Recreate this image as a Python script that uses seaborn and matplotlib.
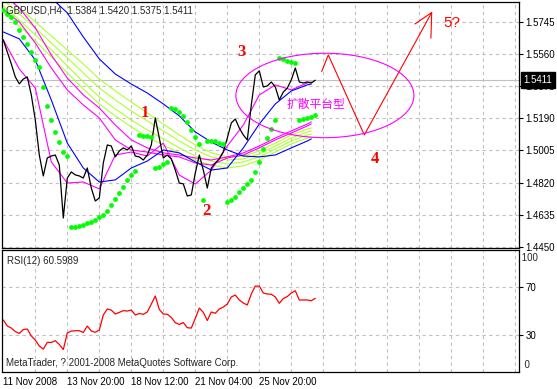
import numpy as np
import matplotlib
matplotlib.use("Agg")
import matplotlib.pyplot as plt
from matplotlib.patches import Ellipse
from matplotlib.transforms import blended_transform_factory
import seaborn as sns

sns.set_style("white")
plt.rcParams["font.family"] = ["Liberation Sans", "DejaVu Sans"]

# -----------------------------
# data (H4 bars, index 0 = 11 Nov 2008)
# -----------------------------
close = [
    1.5644, 1.5574, 1.5505, 1.5430, 1.5390, 1.5418, 1.5430, 1.5326, 1.5181, 1.4979,
    1.4858, 1.4962, 1.4973, 1.4979, 1.4921, 1.4615, 1.4846, 1.4881, 1.4864, 1.4858,
    1.4846, 1.4904, 1.4788, 1.4713, 1.4731, 1.4933, 1.5037, 1.5031, 1.4968, 1.5002,
    1.5020, 1.5008, 1.5031, 1.4973, 1.4968, 1.4950, 1.4979, 1.5037, 1.5193, 1.5077,
    1.4962, 1.4979, 1.4956, 1.4892, 1.4817, 1.4812, 1.4742, 1.4748, 1.4875, 1.4979,
    1.4892, 1.4788, 1.4904, 1.4933, 1.4956, 1.4997, 1.5077, 1.5164, 1.5187, 1.5135,
    1.5095, 1.5066, 1.5268, 1.5442, 1.5465, 1.5372, 1.5378, 1.5401, 1.5372, 1.5297,
    1.5343, 1.5366, 1.5413, 1.5482, 1.5401, 1.5395, 1.5401, 1.5395, 1.5411,
]

rsi = [
    42.5, 37.5, 35.8, 32.9, 31.3, 34.6, 35.0, 29.2, 25.8, 20.8,
    18.3, 23.9, 23.8, 25.3, 22.1, 17.9, 31.7, 33.3, 33.6, 33.6,
    32.1, 37.5, 33.3, 32.3, 34.2, 46.7, 51.7, 50.8, 47.5, 48.9,
    50.3, 50.0, 50.8, 46.7, 47.9, 47.3, 49.2, 55.8, 62.5, 51.3,
    47.5, 47.3, 44.6, 40.3, 38.8, 40.4, 36.1, 35.8, 43.9, 52.5,
    48.9, 42.1, 49.2, 48.1, 51.7, 53.3, 55.8, 61.7, 63.3, 59.2,
    56.7, 55.0, 64.2, 70.8, 70.8, 65.0, 64.2, 64.0, 61.7, 56.4,
    60.4, 62.1, 65.0, 66.9, 59.2, 59.2, 59.2, 58.6, 60.6,
]

sar = [
    1.5817, 1.5794, 1.5777, 1.5745, 1.5702, 1.5663, 1.5621, 1.5576, 1.5528, 1.5486,
    1.5370, 1.5262, 1.5181, 1.5114, 1.5054, 1.4996, 1.4973, 1.4561, 1.4561, 1.4569,
    1.4576, 1.4588, 1.4594, 1.4603, 1.4619, 1.4632, 1.4655, 1.4690, 1.4725, 1.4761,
    1.4796, 1.4835, 1.4863, 1.4888, 1.5095, 1.5089, 1.5089, 1.5085, 1.4902, 1.4911,
    1.4927, 1.4940, 1.5252, 1.5243, 1.5228, 1.5205, 1.5172, 1.5124, 1.5081, 1.5043,
    1.4719, 1.5062, 1.5062, 1.5058, 1.5050, 1.5043, 1.4709, 1.4719, 1.4738, 1.4765,
    1.4787, 1.4811, 1.4835, 1.4881, 1.4939, 1.5016, 1.5080, 1.5131, 1.5181, 1.5538,
    1.5532, 1.5521, 1.5515, 1.5509, 1.5181, 1.5185, 1.5191, 1.5200, 1.5210,
]

# moving averages, sampled every 4 bars
ma_bars = [0, 4, 8, 12, 16, 20, 24, 28, 32, 36, 40, 44, 48, 52, 56, 60, 64, 68, 72, 76, 77]
blue_slow = [np.nan, np.nan, np.nan, 1.5887, 1.5800, 1.5661, 1.5534, 1.5447, 1.5389, 1.5337,
             1.5274, 1.5205, 1.5112, 1.5054, 1.5008, 1.4973, 1.4968, 1.4979, 1.5020, 1.5060, 1.5072]
blue_fast = [1.5690, 1.5650, 1.5528, 1.5297, 1.5048, 1.4904, 1.4823, 1.4835, 1.4904, 1.4944,
             1.5008, 1.4991, 1.4939, 1.4892, 1.4904, 1.5020, 1.5158, 1.5274, 1.5349, 1.5384, 1.5389]
mag_fast = [1.5644, 1.5476, 1.5366, 1.4939, 1.4817, 1.4823, 1.4783, 1.4979, 1.4996, 1.4973,
            1.5048, 1.4863, 1.4811, 1.4892, 1.5031, 1.5152, 1.5326, 1.5384, 1.5355, 1.5395, 1.5401]
mag_mid = [1.5817, 1.5748, 1.5626, 1.5482, 1.5355, 1.5268, 1.5193, 1.5066, 1.5008, 1.4996,
           1.4979, 1.4968, 1.4933, 1.4921, 1.4962, 1.4979, 1.5020, 1.5066, 1.5106, 1.5147, 1.5158]
mag_slow = [1.5904, 1.5829, 1.5713, 1.5557, 1.5424, 1.5326, 1.5251, 1.5152, 1.5066, 1.5020,
            1.4991, 1.4979, 1.4962, 1.4950, 1.4968, 1.4991, 1.5031, 1.5077, 1.5118, 1.5158, 1.5170]
yellow_1 = [1.5910, 1.5829, 1.5748, 1.5667, 1.5586, 1.5505, 1.5418, 1.5349, 1.5285, 1.5222,
            1.5158, 1.5095, 1.5037, 1.4991, 1.4968, 1.4973, 1.5002, 1.5048, 1.5095, 1.5129, 1.5135]
yellow_2 = [1.5875, 1.5794, 1.5713, 1.5626, 1.5540, 1.5453, 1.5366, 1.5297, 1.5233, 1.5176,
            1.5118, 1.5060, 1.5008, 1.4968, 1.4950, 1.4956, 1.4985, 1.5031, 1.5077, 1.5112, 1.5118]
yellow_3 = [1.5840, 1.5759, 1.5673, 1.5586, 1.5494, 1.5401, 1.5314, 1.5245, 1.5181, 1.5124,
            1.5072, 1.5020, 1.4973, 1.4944, 1.4927, 1.4939, 1.4968, 1.5014, 1.5060, 1.5095, 1.5100]
yellow_4 = [1.5806, 1.5725, 1.5638, 1.5546, 1.5453, 1.5361, 1.5274, 1.5205, 1.5141, 1.5083,
            1.5037, 1.4991, 1.4950, 1.4921, 1.4904, 1.4916, 1.4950, 1.4996, 1.5043, 1.5077, 1.5083]

price_ticks = [1.5745, 1.5560, 1.5375, 1.5190, 1.5005, 1.4820, 1.4635, 1.4450]
rsi_ticks = [30, 70]
date_bars = [0, 16, 32, 48, 64]
date_labels = ["11 Nov 2008", "13 Nov 20:00", "18 Nov 12:00", "21 Nov 04:00", "25 Nov 20:00"]

# hand-drawn objects (bar, price)
zig_bars = [79.6, 81.25, 90.25, 107.1]
zig_price = [1.5461, 1.5557, 1.5095, 1.5802]
head_bars = [102.9, 107.1, 106.9]
head_price = [1.5736, 1.5802, 1.5654]
wave_marks = ["1", "2", "3", "4"]
wave_bars = [35.4, 50.85, 59.6, 92.9]
wave_price = [1.5222, 1.4657, 1.5576, 1.4956]
ellipse_center = (80.4, 1.5323)
ellipse_size = (44.5, 0.0488)

# -----------------------------
# figure
# -----------------------------
W, H = 557, 389
fig = plt.figure(figsize=(W / 100, H / 100), dpi=100)
ax = fig.add_axes([2 / W, 1 - 248 / H, 517.3 / W, 246 / H])
ax_rsi = fig.add_axes([2 / W, 1 - 372 / H, 517.3 / W, 121.7 / H])

grid_kw = dict(color="#c0c0c0", linestyle=(0, (3, 3)), linewidth=0.8)
bars = np.arange(len(close))
xlim = (-0.325, 129.0)

# main panel
ax.axhline(close[-1], color="#c0c0c0", lw=0.8, zorder=1)
for vals in (yellow_1, yellow_2, yellow_3, yellow_4):
    sns.lineplot(x=ma_bars, y=vals, ax=ax, color="#adff2f", lw=0.8, legend=False)
for vals in (mag_slow, mag_mid, mag_fast):
    sns.lineplot(x=ma_bars, y=vals, ax=ax, color="#ff00ff", lw=0.8, legend=False)
for vals in (blue_slow, blue_fast):
    sns.lineplot(x=ma_bars, y=vals, ax=ax, color="#0000ff", lw=0.8, legend=False)
sns.lineplot(x=bars, y=close, ax=ax, color="black", lw=0.9, legend=False)
sns.scatterplot(x=bars, y=sar, ax=ax, color="#00ff00", s=12, marker="o",
                linewidth=0, legend=False, zorder=5)

# analysis drawings
ax.add_patch(Ellipse(ellipse_center, ellipse_size[0], ellipse_size[1],
                     fill=False, edgecolor="#ff00ff", lw=0.8, zorder=6))
sns.lineplot(x=zig_bars, y=zig_price, ax=ax, color="red", lw=0.8, sort=False,
             estimator=None, legend=False)
sns.lineplot(x=head_bars, y=head_price, ax=ax, color="red", lw=0.8, sort=False,
             estimator=None, legend=False)
for mark, b, p in zip(wave_marks, wave_bars, wave_price):
    ax.text(b, p, mark, color="red", fontsize=12, fontweight="bold",
            family="Liberation Serif", ha="center", va="center", zorder=7)
ax.text(112.1, 1.5744, "5?", color="red", fontsize=11, ha="center", va="center", zorder=7)
ax.text(78.2, 1.5274, "扩散平台型", color="#ff00ff", fontsize=8.5,
        family=["Noto Sans CJK SC", "DejaVu Sans"], ha="center", va="center", zorder=7)

ax.set_xlim(*xlim)
ax.set_ylim(1.44416, 1.5863)
ax.set_xticks([])
ax.set_xticks(np.arange(8, 129, 8), minor=True)
ax.set_yticks(price_ticks)
ax.set_yticklabels([f"{t:.4f}" for t in price_ticks])
ax.yaxis.tick_right()
ax.tick_params(axis="y", which="major", direction="out", length=3, width=0.8,
               pad=1.5, labelsize=7, colors="black")
ax.tick_params(axis="x", which="minor", length=0)
ax.grid(True, which="minor", axis="x", **grid_kw)
ax.grid(True, which="major", axis="y", **grid_kw)
ax.set_xlabel("")
ax.set_ylabel("")

trans = blended_transform_factory(ax.transAxes, ax.transData)
ax.annotate(f"{close[-1]:.4f}", xy=(1, close[-1]), xycoords=trans, xytext=(3, 0),
            textcoords="offset points", ha="left", va="center", color="white",
            fontsize=7, annotation_clip=False,
            bbox=dict(boxstyle="square,pad=0.3", fc="black", ec="black"))
ax.text(3.5 / 517.3, 1 - 8.5 / 246, "GBPUSD,H4  1.5384 1.5420 1.5375 1.5411",
        transform=ax.transAxes, ha="left", va="center", fontsize=7, zorder=8)

# RSI panel
sns.lineplot(x=bars, y=rsi, ax=ax_rsi, color="red", lw=0.9, legend=False)
ax_rsi.set_xlim(*xlim)
ax_rsi.set_ylim(-0.8, 100.6)
ax_rsi.xaxis.remove_overlapping_locs = False
ax_rsi.set_xticks(date_bars)
ax_rsi.set_xticklabels(date_labels, ha="left")
ax_rsi.set_xticks(np.arange(8, 129, 8), minor=True)
ax_rsi.tick_params(axis="x", which="major", direction="out", length=2.5, width=0.8,
                   pad=1, labelsize=7, colors="black")
ax_rsi.tick_params(axis="x", which="minor", length=0)
ax_rsi.set_yticks(rsi_ticks)
ax_rsi.set_yticklabels([str(t) for t in rsi_ticks])
ax_rsi.yaxis.tick_right()
ax_rsi.tick_params(axis="y", direction="out", length=3, width=0.8, pad=1.5,
                   labelsize=7, colors="black")
ax_rsi.grid(True, which="minor", axis="x", **grid_kw)
ax_rsi.grid(True, which="major", axis="y", **grid_kw)
ax_rsi.set_xlabel("")
ax_rsi.set_ylabel("")
ax_rsi.text(1.0, 1 - 8 / 121.7, " 100", transform=ax_rsi.transAxes, ha="left",
            va="center", fontsize=7)
ax_rsi.text(1.0, 6.5 / 121.7, "  0", transform=ax_rsi.transAxes, ha="left",
            va="center", fontsize=7)
ax_rsi.text(5 / 517.3, 1 - 10.5 / 121.7, "RSI(12) 60.5989", transform=ax_rsi.transAxes,
            ha="left", va="center", fontsize=7)
ax_rsi.text(4.5 / 517.3, 9 / 121.7, "MetaTrader, ? 2001-2008 MetaQuotes Software Corp.",
            transform=ax_rsi.transAxes, ha="left", va="center", fontsize=7)

for a in (ax, ax_rsi):
    for s in a.spines.values():
        s.set_color("black")
        s.set_linewidth(0.9)
        s.set_visible(True)

fig.savefig("out.png", dpi=100, facecolor="white")
